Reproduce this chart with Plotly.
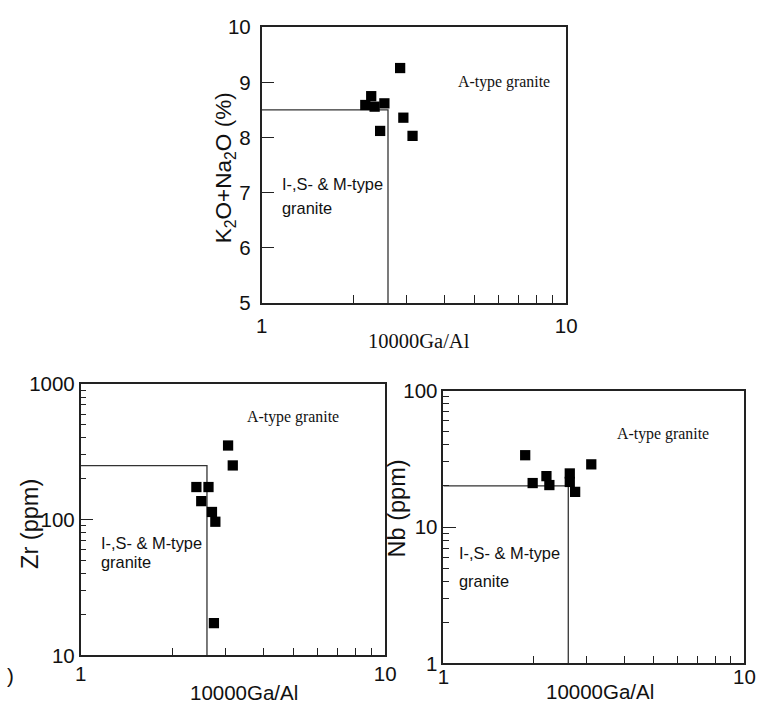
import plotly.graph_objects as go

# ---------------- data ----------------
# Panel 1: K2O+Na2O (%) vs 10000Ga/Al
ga_al_alk = [2.19, 2.29, 2.35, 2.53, 2.45, 2.85, 2.92, 3.13]
alkali = [8.59, 8.75, 8.56, 8.62, 8.12, 9.26, 8.36, 8.03]

# Panel 2: Zr (ppm) vs 10000Ga/Al
ga_al_zr = [2.40, 2.63, 2.49, 2.70, 2.77, 3.05, 3.16, 2.74]
zr = [174, 174, 137, 114, 96.6, 352, 251, 17.3]

# Panel 3: Nb (ppm) vs 10000Ga/Al
ga_al_nb = [1.87, 1.98, 2.20, 2.25, 2.63, 2.63, 2.74, 3.10]
nb = [33.6, 21.0, 23.6, 20.3, 24.7, 21.4, 18.1, 28.8]

# discrimination boundaries (Whalen et al.)
ga_al_boundary = 2.6
alkali_boundary = 8.5
zr_boundary = 250
nb_boundary = 20

# axis extents and ticks
x_range_vals = [1, 10]
alk_range_vals = [5, 10]
zr_range_vals = [10, 1000]
nb_range_vals = [1, 100]
x_tick_vals = [1, 10]
x_tick_text = ["1", "10"]
alk_tick_vals = [5, 6, 7, 8, 9, 10]
zr_tick_vals = [10, 100, 1000]
nb_tick_vals = [1, 10, 100]
log_minor_digits = [2, 3, 4, 5, 6, 7, 8, 9]

# ---------------- figure ----------------
W, H = 757, 712
# the photographed page appears slightly reduced and inset; positions below
# are given in target-picture pixels and converted to page pixels
SX, OX = 0.979, 7.0
SY, OY = 0.972, 9.7
K = 1.025  # size compensation

SANS = "Liberation Sans, Arial, sans-serif"
SERIF = "Liberation Serif, Times New Roman, serif"
INK = "#111111"
LINE = "#222222"


def fx(x):
    return ((x - OX) / SX) / W


def fy(y):
    return 1 - ((y - OY) / SY) / H


def dom_x(a, b):
    return [max(0.0, fx(a)), min(1.0, fx(b))]


def dom_y(top, bottom):
    return [max(0.0, fy(bottom)), min(1.0, fy(top))]


fig = go.Figure()

panels = [
    ("x", "y", ga_al_alk, alkali, alk_range_vals[0], alkali_boundary),
    ("x2", "y2", ga_al_zr, zr, zr_range_vals[0], zr_boundary),
    ("x3", "y3", ga_al_nb, nb, nb_range_vals[0], nb_boundary),
]
for xa, ya, xs, ys, ymin, yb in panels:
    fig.add_trace(go.Scatter(
        x=[x_range_vals[0], ga_al_boundary, ga_al_boundary],
        y=[yb, yb, ymin],
        mode="lines", line=dict(color="#333333", width=1.3),
        xaxis=xa, yaxis=ya, showlegend=False, hoverinfo="skip"))
    fig.add_trace(go.Scatter(
        x=xs, y=ys, mode="markers",
        marker=dict(symbol="square", size=10 * K, color="black", line=dict(width=0)),
        xaxis=xa, yaxis=ya, showlegend=False, cliponaxis=False))

minor_log_x = [d * x_range_vals[0] for d in log_minor_digits]


def x_axis(domain, anchor, standoff):
    return dict(
        type="log", domain=domain, anchor=anchor,
        range=[0, 1], tickmode="array", tickvals=x_tick_vals, ticktext=x_tick_text,
        ticks="", showgrid=False, zeroline=False,
        showline=True, mirror=True, linecolor=LINE, linewidth=1.5,
        tickfont=dict(family=SANS, size=20 * K, color=INK),
        ticklabelstandoff=standoff,
        minor=dict(ticks="inside", ticklen=8, tickcolor=LINE, tickwidth=1.2,
                   tickmode="array", tickvals=minor_log_x, showgrid=False),
    )


def log_y_axis(domain, anchor, rng, vals):
    minor_vals = [d * v for v in vals[:-1] for d in log_minor_digits]
    return dict(
        type="log", domain=domain, anchor=anchor,
        range=rng, tickmode="array", tickvals=vals, ticktext=[str(v) for v in vals],
        ticks="inside", ticklen=13, tickwidth=1.2, tickcolor=LINE,
        showgrid=False, zeroline=False,
        showline=True, mirror=True, linecolor=LINE, linewidth=1.5,
        tickfont=dict(family=SANS, size=20 * K, color=INK),
        ticklabelstandoff=0,
        minor=dict(ticks="inside", ticklen=6, tickcolor=LINE, tickwidth=1.2,
                   tickmode="array", tickvals=minor_vals, showgrid=False),
    )


fig.update_layout(
    width=W, height=H,
    margin=dict(l=0, r=0, t=0, b=0),
    paper_bgcolor="white", plot_bgcolor="white",
    showlegend=False,
    xaxis=x_axis(dom_x(263, 568), "y", 4),
    yaxis=dict(
        domain=dom_y(25, 302), anchor="x",
        range=alk_range_vals, tickmode="array", tickvals=alk_tick_vals,
        ticks="inside", ticklen=13, tickwidth=1.2, tickcolor=LINE,
        showgrid=False, zeroline=False,
        showline=True, mirror=True, linecolor=LINE, linewidth=1.5,
        tickfont=dict(family=SANS, size=20 * K, color=INK),
        ticklabelstandoff=5,
    ),
    xaxis2=x_axis(dom_x(81.7, 386.7), "y2", -1),
    yaxis2=log_y_axis(dom_y(383.3, 656), "x2", [1, 3], zr_tick_vals),
    xaxis3=x_axis(dom_x(445, 746.5), "y3", -6),
    yaxis3=log_y_axis(dom_y(390, 664), "x3", [0, 2], nb_tick_vals),
)


def label(text, x, y, size, family, xanchor="center", angle=0):
    fig.add_annotation(
        text=text, x=fx(x), y=fy(y), xref="paper", yref="paper",
        showarrow=False, xanchor=xanchor, yanchor="middle", textangle=angle,
        font=dict(size=size * K, family=family, color=INK))


# panel 1 labels
label("A-type granite", 506, 80, 15.5, SERIF)
label("I-,S- & M-type", 281, 182, 16, SANS, "left")
label("granite", 281, 207, 16, SANS, "left")
label("10000Ga/Al", 421, 340, 20, SERIF)
label("K<sub>2</sub>O+Na<sub>2</sub>O (%)", 226, 166, 22, SANS, angle=-90)

# panel 2 labels
label("A-type granite", 294, 417, 15.5, SERIF)
label("I-,S- & M-type", 100, 543, 16, SANS, "left")
label("granite", 100, 562, 16, SANS, "left")
label("10000Ga/Al", 245, 693, 20, SANS)
label("Zr (ppm)", 31, 524, 23, SANS, angle=-90)
label(")", 12, 676, 20, SANS)

# panel 3 labels
label("A-type granite", 665, 434, 15.5, SERIF)
label("I-,S- & M-type", 459, 553, 16, SANS, "left")
label("granite", 459, 581, 16, SANS, "left")
label("10000Ga/Al", 602, 692, 20, SANS)
label("Nb (ppm)", 399, 508, 23, SANS, angle=-90)

fig.write_html(
    "out.html",
    config={"displayModeBar": False},
    post_script="document.body.style.margin='0';document.body.style.overflow='hidden';",
)
